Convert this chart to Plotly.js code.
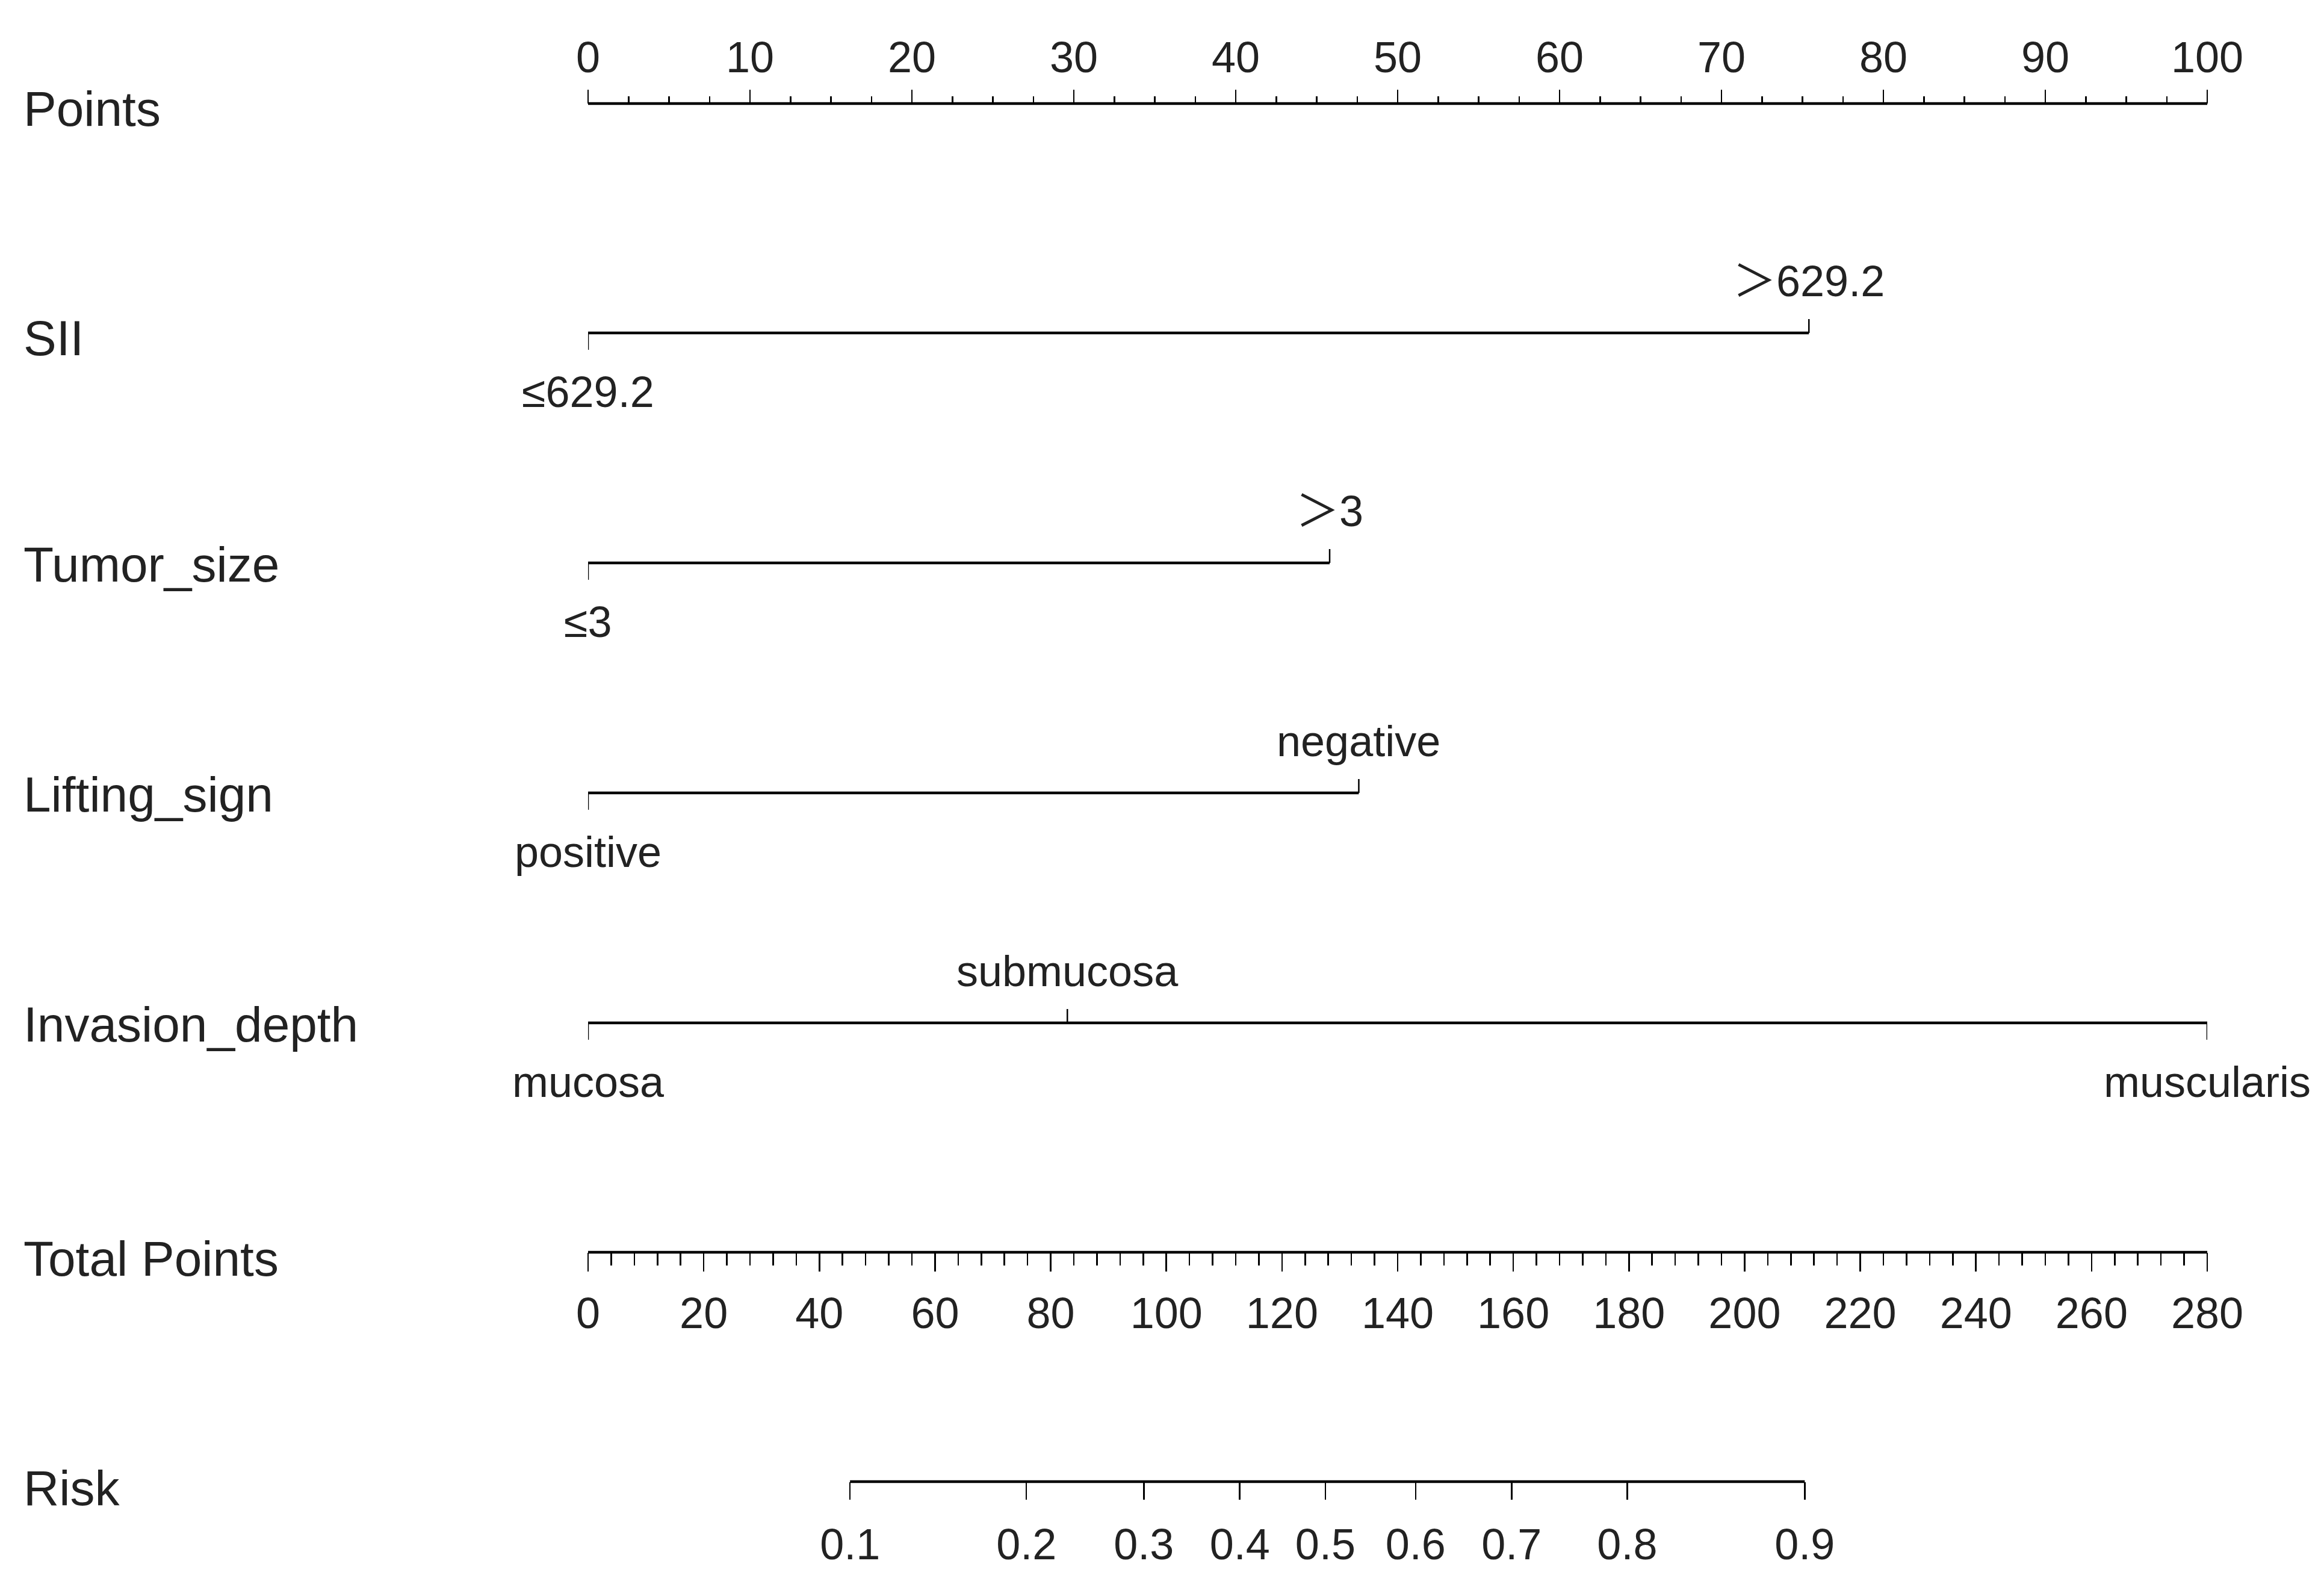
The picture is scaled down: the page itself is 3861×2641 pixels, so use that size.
<!DOCTYPE html>
<html>
<head>
<meta charset="utf-8">
<script src="https://cdn.plot.ly/plotly-3.0.1.min.js"></script>
<style>
  html, body { margin: 0; padding: 0; background: #fff; }
  #nomogram { width: 3861px; height: 2641px; }
</style>
</head>
<body>
<div id="nomogram"></div>
<script>
// scale ticks
var pointsTicks = [0, 10, 20, 30, 40, 50, 60, 70, 80, 90, 100];
var totalTicks = [0, 20, 40, 60, 80, 100, 120, 140, 160, 180, 200, 220, 240, 260, 280];

// predictors: level labels and their points
var siiLevels = ['≤629.2', '＞629.2'];
var siiPoints = [0, 75.4];
var tumorLevels = ['≤3', '＞3'];
var tumorPoints = [0, 45.8];
var liftLevels = ['positive', 'negative'];
var liftPoints = [0, 47.6];
var depthLevels = ['mucosa', 'submucosa', 'muscularis'];
var depthPoints = [0, 29.6, 100];

// risk scale: label and where it sits on the total points scale
var riskLabels = ['0.1', '0.2', '0.3', '0.4', '0.5', '0.6', '0.7', '0.8', '0.9'];
var riskTotalPoints = [45.3, 75.8, 96.1, 112.7, 127.5, 143.1, 159.7, 179.7, 210.4];

var H = 2641;
var FONT = 'Liberation Sans, Arial, Noto Sans CJK SC, sans-serif';
var TXT = '#222';

// row positions (pixels from top)
var rowY = {points: 172, sii: 553, tumor: 935, lift: 1317, depth: 1699, total: 2080, risk: 2461};

var rows = [
  {name: 'SII', y: rowY.sii, levels: siiLevels, pts: siiPoints},
  {name: 'Tumor_size', y: rowY.tumor, levels: tumorLevels, pts: tumorPoints},
  {name: 'Lifting_sign', y: rowY.lift, levels: liftLevels, pts: liftPoints},
  {name: 'Invasion_depth', y: rowY.depth, levels: depthLevels, pts: depthPoints}
];

var traces = [];
var annotations = [];

rows.forEach(function (r) {
  var maxP = Math.max.apply(null, r.pts);
  traces.push({
    x: [0, maxP], y: [r.y, r.y], mode: 'lines',
    line: {color: '#000', width: 4.5}, hoverinfo: 'skip', showlegend: false
  });
  var tx = [], ty = [];
  r.pts.forEach(function (p, i) {
    var below = (i % 2 === 0);
    tx.push(p, p, null);
    ty.push(r.y, below ? r.y + 28 : r.y - 23, null);
    annotations.push({
      x: p, y: below ? r.y + 98 : r.y - 86, xref: 'x', yref: 'y',
      text: r.levels[i], showarrow: false, xanchor: 'center', yanchor: 'middle',
      font: {family: FONT, size: 72, color: TXT}
    });
  });
  traces.push({
    x: tx, y: ty, mode: 'lines',
    line: {color: '#000', width: 2.5}, hoverinfo: 'skip', showlegend: false
  });
});

// axis lines for points / total points / risk
traces.push({x: [0, 100], y: [rowY.points, rowY.points], mode: 'lines',
  line: {color: '#000', width: 4.5}, hoverinfo: 'skip', showlegend: false});
traces.push({x: [0, 280], y: [rowY.total, rowY.total], xaxis: 'x2', mode: 'lines',
  line: {color: '#000', width: 4.5}, hoverinfo: 'skip', showlegend: false});
traces.push({x: [riskTotalPoints[0], riskTotalPoints[riskTotalPoints.length - 1]],
  y: [rowY.risk, rowY.risk], xaxis: 'x3', mode: 'lines',
  line: {color: '#000', width: 4.5}, hoverinfo: 'skip', showlegend: false});

var labels = [
  ['Points', rowY.points, 8], ['SII', rowY.sii, 8], ['Tumor_size', rowY.tumor, 2],
  ['Lifting_sign', rowY.lift, 2], ['Invasion_depth', rowY.depth, 2],
  ['Total Points', rowY.total, 10], ['Risk', rowY.risk, 10]
];
labels.forEach(function (l) {
  annotations.push({
    x: (37 - 977) / 2690, y: l[1] + l[2], xref: 'paper', yref: 'y',
    text: l[0], showarrow: false, xanchor: 'left', yanchor: 'middle',
    font: {family: FONT, size: 82, color: TXT}
  });
});

var baseAxis = {
  anchor: 'free', showgrid: false, zeroline: false, showline: false,
  ticks: 'outside', tickcolor: '#000', tickwidth: 2.5,
  tickfont: {family: FONT, size: 72, color: TXT},
  fixedrange: true, automargin: false
};

var layout = {
  width: 3861, height: H,
  margin: {l: 977, r: 194, t: 0, b: 0},
  paper_bgcolor: '#fff', plot_bgcolor: '#fff',
  showlegend: false,
  xaxis: Object.assign({}, baseAxis, {
    range: [0, 100], side: 'top', position: 1 - rowY.points / H,
    tickmode: 'array', tickvals: pointsTicks, ticklen: 23,
    minor: {dtick: 2.5, ticklen: 12, tickwidth: 2.5, tickcolor: '#000', ticks: 'outside', showgrid: false}
  }),
  xaxis2: Object.assign({}, baseAxis, {
    range: [0, 280], overlaying: 'x', side: 'bottom', position: 1 - rowY.total / H,
    tickmode: 'array', tickvals: totalTicks, ticklen: 31, ticklabelstandoff: 8,
    minor: {dtick: 4, ticklen: 21, tickwidth: 2.5, tickcolor: '#000', ticks: 'outside', showgrid: false}
  }),
  xaxis3: Object.assign({}, baseAxis, {
    range: [0, 280], overlaying: 'x', side: 'bottom', position: 1 - rowY.risk / H,
    tickmode: 'array', tickvals: riskTotalPoints, ticktext: riskLabels, ticklen: 29,
    ticklabelstandoff: 13
  }),
  yaxis: {range: [H, 0], visible: false, domain: [0, 1], fixedrange: true},
  annotations: annotations
};

Plotly.newPlot('nomogram', traces, layout, {staticPlot: true});
</script>
</body>
</html>
